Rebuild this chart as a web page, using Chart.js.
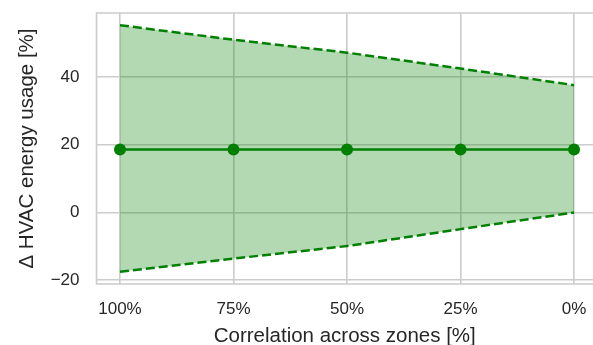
<!DOCTYPE html>
<html>
<head>
<meta charset="utf-8">
<script src="https://cdn.jsdelivr.net/npm/chart.js@4"></script>
<style>
html,body{margin:0;padding:0;overflow:hidden;background:#fff;}
canvas{display:block;}
</style>
</head>
<body>
<canvas id="c" width="593" height="345"></canvas>
<script>
// Data
const categories = ['100%', '75%', '50%', '25%', '0%'];
const xPositions = [0, 1, 2, 3, 4];
const meanValues = [18.6, 18.6, 18.6, 18.6, 18.6];
const upperValues = [55.3, 51.0, 47.2, 42.5, 37.6];
const lowerValues = [-17.5, -13.6, -9.9, -4.9, 0.0];
const yTicks = [-20, 0, 20, 40];

const GREEN = '#008000';
const FILL = 'rgba(0,128,0,0.3)';
const GRID = '#cccccc';
const TEXT = '#262626';
const FONT = 'Liberation Sans, Arial, sans-serif';

const toPts = vals => vals.map((v, i) => ({x: xPositions[i], y: v}));

const frame = {
  id: 'frame',
  afterDraw(chart) {
    const {ctx, chartArea: a} = chart;
    ctx.save();
    ctx.strokeStyle = GRID;
    ctx.lineWidth = 1.6;
    ctx.beginPath();
    ctx.moveTo(a.right + 2, a.top);
    ctx.lineTo(a.left, a.top);
    ctx.lineTo(a.left, a.bottom);
    ctx.lineTo(a.right + 2, a.bottom);
    ctx.stroke();
    ctx.restore();
  }
};

const zeroPad = s => { s.paddingTop = 0; s.paddingBottom = 0; s.paddingLeft = 0; s.paddingRight = 0; };

new Chart(document.getElementById('c'), {
  type: 'line',
  data: {
    datasets: [
      {
        label: 'upper',
        data: toPts(upperValues),
        borderColor: GREEN,
        borderWidth: 2.5,
        borderDash: [9, 4],
        pointRadius: 0,
        fill: false,
        tension: 0
      },
      {
        label: 'lower',
        data: toPts(lowerValues),
        borderColor: GREEN,
        borderWidth: 2.5,
        borderDash: [9, 4],
        pointRadius: 0,
        backgroundColor: FILL,
        fill: '-1',
        tension: 0
      },
      {
        label: 'mean',
        data: toPts(meanValues),
        borderColor: GREEN,
        borderWidth: 2.5,
        pointRadius: 6,
        pointBackgroundColor: GREEN,
        pointBorderColor: GREEN,
        pointBorderWidth: 0,
        fill: false,
        tension: 0
      }
    ]
  },
  options: {
    responsive: false,
    animation: false,
    devicePixelRatio: 1,
    layout: {autoPadding: false, padding: {top: 13, right: 0, left: 0, bottom: 0}},
    plugins: {legend: {display: false}, tooltip: {enabled: false}},
    scales: {
      x: {
        type: 'linear',
        min: -0.207,
        max: 4.167,
        afterBuildTicks: s => { s.ticks = xPositions.map(v => ({value: v})); },
        afterFit: s => { s.height = 61; zeroPad(s); },
        grid: {color: GRID, lineWidth: 1.6, drawTicks: true, tickLength: 15, tickColor: 'rgba(0,0,0,0)'},
        border: {display: false},
        ticks: {
          padding: 0,
          color: TEXT,
          font: {family: FONT, size: 17},
          maxRotation: 0,
          autoSkip: false,
          callback: (v) => categories[xPositions.indexOf(v)]
        },
        title: {
          display: true,
          text: 'Correlation across zones [%]',
          color: TEXT,
          font: {family: FONT, size: 20.5, lineHeight: 1},
          padding: {top: 0, bottom: -2}
        }
      },
      y: {
        min: -21.1,
        max: 58.9,
        afterBuildTicks: s => { s.ticks = yTicks.map(v => ({value: v})); },
        afterFit: s => { s.width = 96.5; zeroPad(s); },
        grid: {color: GRID, lineWidth: 1.6, drawTicks: false},
        border: {display: false},
        ticks: {
          padding: 17,
          color: TEXT,
          font: {family: FONT, size: 17},
          callback: v => (v < 0 ? '\u2212' + Math.abs(v) : String(v))
        },
        title: {
          display: true,
          text: 'Δ HVAC energy usage [%]',
          color: TEXT,
          font: {family: FONT, size: 20.5, lineHeight: 1},
          padding: {top: 16.75, bottom: 0}
        }
      }
    }
  },
  plugins: [frame]
});
</script>
</body>
</html>
